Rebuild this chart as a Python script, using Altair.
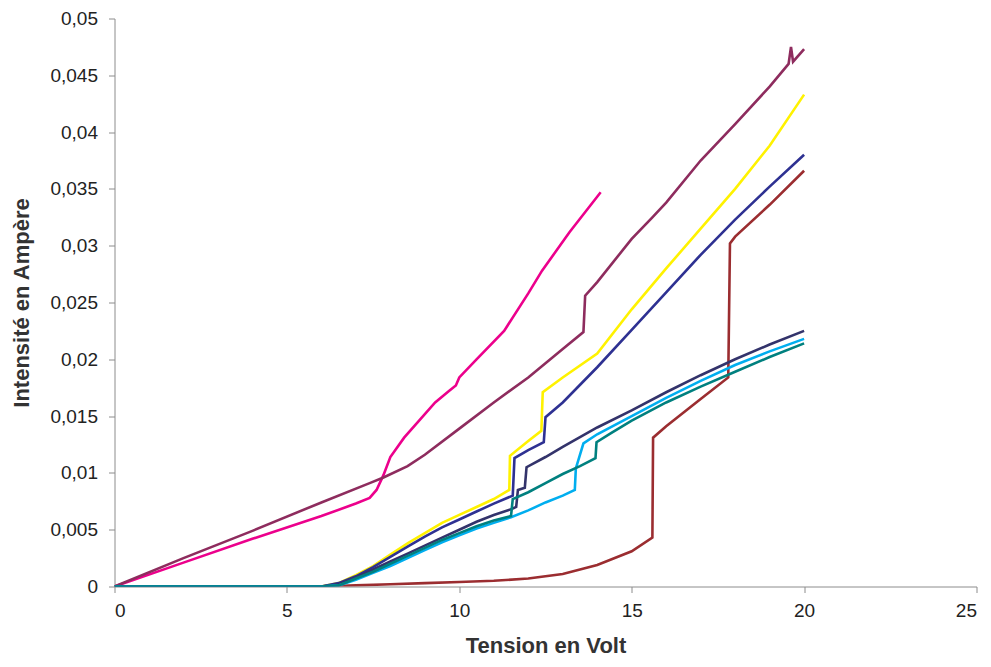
import altair as alt
import pandas as pd

# Series data (Volt, Ampère)
magenta_x = [0, 2, 4, 6, 7, 7.4, 7.6, 7.8, 8.0, 8.4, 9.3, 9.7, 9.9, 10.0, 10.5, 11.3, 12.0, 12.4, 13.2, 14.1]
magenta_y = [0, 0.0021, 0.0042, 0.0062, 0.0073, 0.0078, 0.0085, 0.0098, 0.0114, 0.0131, 0.0162, 0.0172, 0.0177, 0.0184, 0.0200, 0.0225, 0.0258, 0.0278, 0.0312, 0.0347]

purple_x = [0, 2, 4, 6, 7.4, 7.8, 8.5, 9, 10, 11, 12, 13.0, 13.6, 13.65, 14, 15, 15.6, 16, 17, 18, 19, 19.55, 19.62, 19.68, 20]
purple_y = [0, 0.0025, 0.0049, 0.0074, 0.0091, 0.0096, 0.0106, 0.0116, 0.0139, 0.0162, 0.0184, 0.0209, 0.0224, 0.0256, 0.0268, 0.0306, 0.0325, 0.0338, 0.0375, 0.0407, 0.0440, 0.0460, 0.0475, 0.0462, 0.0473]

yellow_x = [0, 6, 6.5, 7, 7.5, 8, 8.5, 9, 9.5, 10, 10.5, 11, 11.45, 11.47, 12, 12.38, 12.42, 13, 14, 15, 16, 17, 18, 19, 20]
yellow_y = [0, 0, 0.0003, 0.0010, 0.0018, 0.0028, 0.0038, 0.0047, 0.0056, 0.0063, 0.0070, 0.0077, 0.0085, 0.0115, 0.0128, 0.0137, 0.0171, 0.0184, 0.0205, 0.0244, 0.0280, 0.0315, 0.0350, 0.0388, 0.0433]

navy_x = [0, 6, 6.5, 7, 7.5, 8, 8.5, 9, 9.5, 10, 10.5, 11, 11.55, 11.6, 12, 12.45, 12.5, 13, 14, 15, 16, 17, 18, 19, 20]
navy_y = [0, 0, 0.0003, 0.0009, 0.0017, 0.0026, 0.0035, 0.0044, 0.0052, 0.0059, 0.0066, 0.0073, 0.0080, 0.0113, 0.0120, 0.0127, 0.0149, 0.0162, 0.0193, 0.0226, 0.0259, 0.0292, 0.0323, 0.0352, 0.0380]

brown_x = [0, 6, 7, 8, 9, 10, 11, 12, 13, 14, 15, 15.6, 15.62, 16, 17, 17.8, 17.85, 18, 19, 20]
brown_y = [0, 0, 0.0001, 0.0002, 0.0003, 0.0004, 0.0005, 0.0007, 0.0011, 0.0019, 0.0031, 0.0043, 0.0131, 0.0141, 0.0165, 0.0184, 0.0302, 0.0308, 0.0336, 0.0366]

slate_x = [0, 6, 6.5, 7, 7.5, 8, 8.5, 9, 9.5, 10, 10.5, 11, 11.5, 11.65, 11.7, 11.9, 11.95, 12.5, 13, 14, 15, 16, 17, 18, 19, 20]
slate_y = [0, 0, 0.0002, 0.0008, 0.0015, 0.0022, 0.0029, 0.0036, 0.0043, 0.0050, 0.0057, 0.0063, 0.0068, 0.0070, 0.0085, 0.0087, 0.0105, 0.0114, 0.0123, 0.0140, 0.0155, 0.0171, 0.0186, 0.0200, 0.0213, 0.0225]

sky_x = [0, 6, 6.5, 7, 7.5, 8, 8.5, 9, 9.5, 10, 10.5, 11, 11.5, 12, 12.5, 13, 13.35, 13.38, 13.6, 14, 15, 16, 17, 18, 19, 20]
sky_y = [0, 0, 0.0001, 0.0006, 0.0012, 0.0018, 0.0025, 0.0032, 0.0039, 0.0045, 0.0051, 0.0056, 0.0061, 0.0067, 0.0074, 0.0080, 0.0085, 0.0104, 0.0126, 0.0134, 0.0150, 0.0166, 0.0181, 0.0195, 0.0207, 0.0218]

teal_x = [0, 6, 6.5, 7, 7.5, 8, 8.5, 9, 9.5, 10, 10.5, 11, 11.5, 11.55, 12, 12.5, 13, 13.5, 13.95, 13.98, 14.4, 15, 16, 17, 18, 19, 20]
teal_y = [0, 0, 0.0001, 0.0007, 0.0013, 0.0020, 0.0027, 0.0034, 0.0041, 0.0047, 0.0053, 0.0058, 0.0062, 0.0077, 0.0083, 0.0091, 0.0099, 0.0106, 0.0113, 0.0127, 0.0135, 0.0146, 0.0162, 0.0176, 0.0189, 0.0202, 0.0214]

series_names = ["magenta", "purple", "yellow", "navy", "brown", "slate", "sky", "teal"]
series_colors = ["#EC008C", "#8E2C5E", "#FFF200", "#2E3192", "#9B2D30", "#33336B", "#00AEEF", "#00807F"]
series_data = [(magenta_x, magenta_y), (purple_x, purple_y), (yellow_x, yellow_y), (navy_x, navy_y),
               (brown_x, brown_y), (slate_x, slate_y), (sky_x, sky_y), (teal_x, teal_y)]

x_ticks = [0, 5, 10, 15, 20, 25]
y_ticks = [0, 0.005, 0.01, 0.015, 0.02, 0.025, 0.03, 0.035, 0.04, 0.045, 0.05]

rows = []
for name, (xs, ys) in zip(series_names, series_data):
    for i, (xv, yv) in enumerate(zip(xs, ys)):
        rows.append({"serie": name, "V": xv, "I": yv, "idx": i})
df = pd.DataFrame(rows)

W, H = 862, 568
FONT = "Liberation Sans"

chart = alt.Chart(df).mark_line(strokeWidth=2.6, clip=True).encode(
    x=alt.X("V:Q", scale=alt.Scale(domain=[0, 25], nice=False, zero=True),
            axis=alt.Axis(values=x_ticks, title="Tension en Volt", grid=False,
                          domainColor="#8c8c8c", tickColor="#8c8c8c", tickSize=6,
                          labelFont=FONT, labelFontSize=19, labelColor="#222222",
                          labelPadding=9,
                          titleFont=FONT, titleFontSize=22, titleFontWeight="bold",
                          titleColor="#333333", titleY=66, titleBaseline="alphabetic")),
    y=alt.Y("I:Q", scale=alt.Scale(domain=[0, 0.05], nice=False),
            axis=alt.Axis(values=y_ticks, title="Intensité en Ampère", grid=False,
                          labelExpr="replace(format(datum.value, '.3~f'), '.', ',')",
                          domainColor="#8c8c8c", tickColor="#8c8c8c", tickSize=6,
                          labelFont=FONT, labelFontSize=19, labelColor="#222222",
                          labelPadding=11,
                          titleFont=FONT, titleFontSize=22, titleFontWeight="bold",
                          titleColor="#333333", titleX=-93, titleBaseline="middle")),
    color=alt.Color("serie:N", scale=alt.Scale(domain=series_names, range=series_colors), legend=None),
    detail="serie:N",
    order="idx:Q",
).properties(
    width=W, height=H,
    autosize=alt.AutoSizeParams(type="none"),
    padding={"left": 106.5, "top": 10.5, "right": 5, "bottom": 72.5},
).configure_view(stroke=None)

chart.save("out.html", embed_options={"renderer": "svg", "actions": False})
